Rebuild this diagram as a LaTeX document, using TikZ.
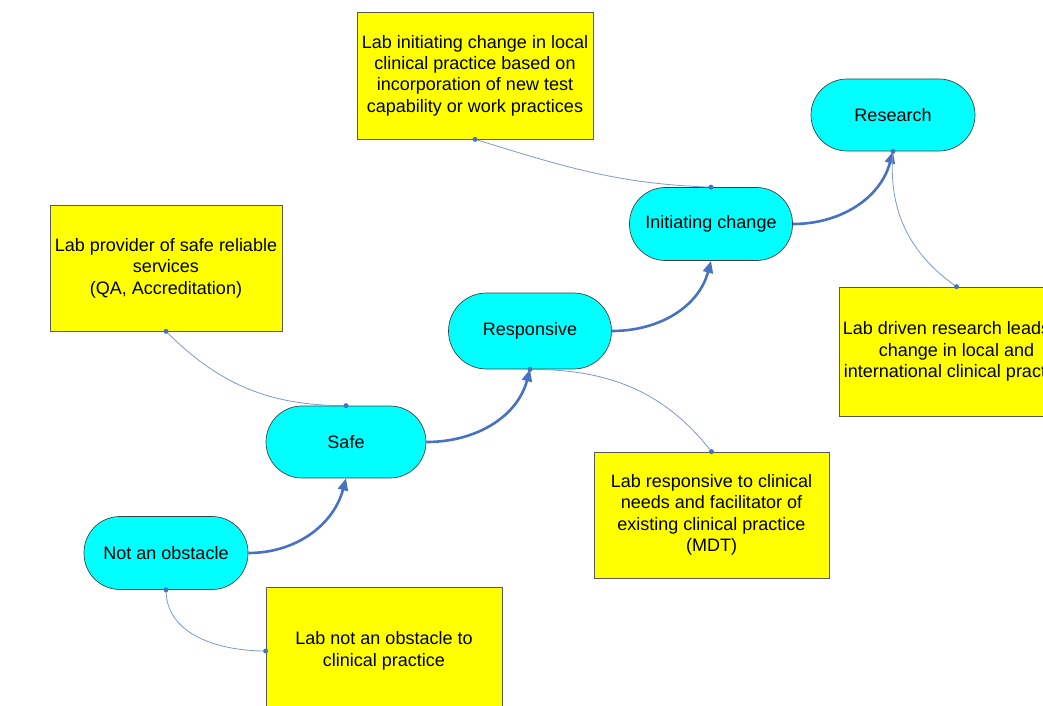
\documentclass[tikz,border=0pt]{standalone}
\usepackage{fontspec}
\setmainfont{Liberation Sans}
\usetikzlibrary{arrows.meta}
\definecolor{stagefill}{RGB}{0,255,255}
\definecolor{notefill}{RGB}{255,255,0}
\definecolor{arrowblue}{RGB}{71,114,196}
\definecolor{linkblue}{RGB}{125,152,205}
\begin{document}
\begin{tikzpicture}[x=1pt,y=-1pt,
 stage/.style={draw=black!75, line width=0.7pt, fill=stagefill, rounded corners=36pt,
   minimum width=164pt, minimum height=73pt, inner sep=0pt, font=\fontsize{18}{21.4}\selectfont},
 note/.style={draw=black!65, line width=0.7pt, fill=notefill, minimum width=235pt,
   minimum height=127pt, inner sep=0pt, align=center, font=\fontsize{18}{21.4}\selectfont},
 flow/.style={draw=arrowblue, line width=2.6pt, -{Triangle[length=12pt,width=10pt]}},
 link/.style={draw=linkblue, line width=0.8pt},
 dot/.style={circle, fill=arrowblue, inner sep=0pt, minimum size=5pt}]
\useasboundingbox (0,0) rectangle (1043,706);
\clip (0,0) rectangle (1043,706);

\node[stage] (n1) at (166,553) {Not an obstacle};
\node[stage, minimum width=160pt, minimum height=72pt] (n2) at (346,442) {Safe};
\node[stage, minimum width=163pt, minimum height=76pt, rounded corners=38pt] (n3) at (530,331) {Responsive};
\node[stage, minimum width=163pt] (n4) at (711,224) {Initiating change};
\node[stage, minimum height=72pt] (n5) at (893,115) {Research};

\node[note, minimum width=236pt] (b1) at (384,651) {Lab not an obstacle to\\clinical practice};
\node[note, minimum width=232pt, minimum height=126pt] (b2) at (166,268) {Lab provider of safe reliable\\services\\(QA, Accreditation)};
\node[note, minimum width=236pt] (b3) at (475,75.5) {Lab initiating change in local\\clinical practice based on\\incorporation of new test\\capability or work practices};
\node[note, minimum width=235pt, minimum height=126pt] (b4) at (711.5,515) {Lab responsive to clinical\\needs and facilitator of\\existing clinical practice\\(MDT)};
\node[note, minimum width=235pt, minimum height=129pt] (b5) at (956.5,351.5) {Lab driven research leads to\\change in local and\\international clinical practice};

\draw[flow] (n1.east) to[out=0,in=-105] (n2.south);
\draw[flow] (n2.east) to[out=0,in=-105] (n3.south);
\draw[flow] (n3.east) to[out=0,in=-105] (n4.south);
\draw[flow] (n4.east) to[out=0,in=-105] (n5.south);

\draw[link] (n1.south) to[out=-90,in=180] (b1.west);
\draw[link] (b2.south) to[out=-45,in=180] (n2.north);
\draw[link] (n3.south) to[out=0,in=128] (b4.north);
\draw[link] (b3.south) to[out=-17,in=178] (n4.north);
\draw[link] (n5.south) to[out=-95,in=145] (b5.north);

\node[dot] (d1) at (n1.south) {};
\node[dot] (d2) at (b1.west) {};
\node[dot] (d3) at (b2.south) {};
\node[dot] (d4) at (n2.north) {};
\node[dot] (d5) at (n3.south) {};
\node[dot] (d6) at (b4.north) {};
\node[dot] (d7) at (b3.south) {};
\node[dot] (d8) at (n4.north) {};
\node[dot] (d9) at (n5.south) {};
\node[dot] (d10) at (b5.north) {};
\end{tikzpicture}
\end{document}
